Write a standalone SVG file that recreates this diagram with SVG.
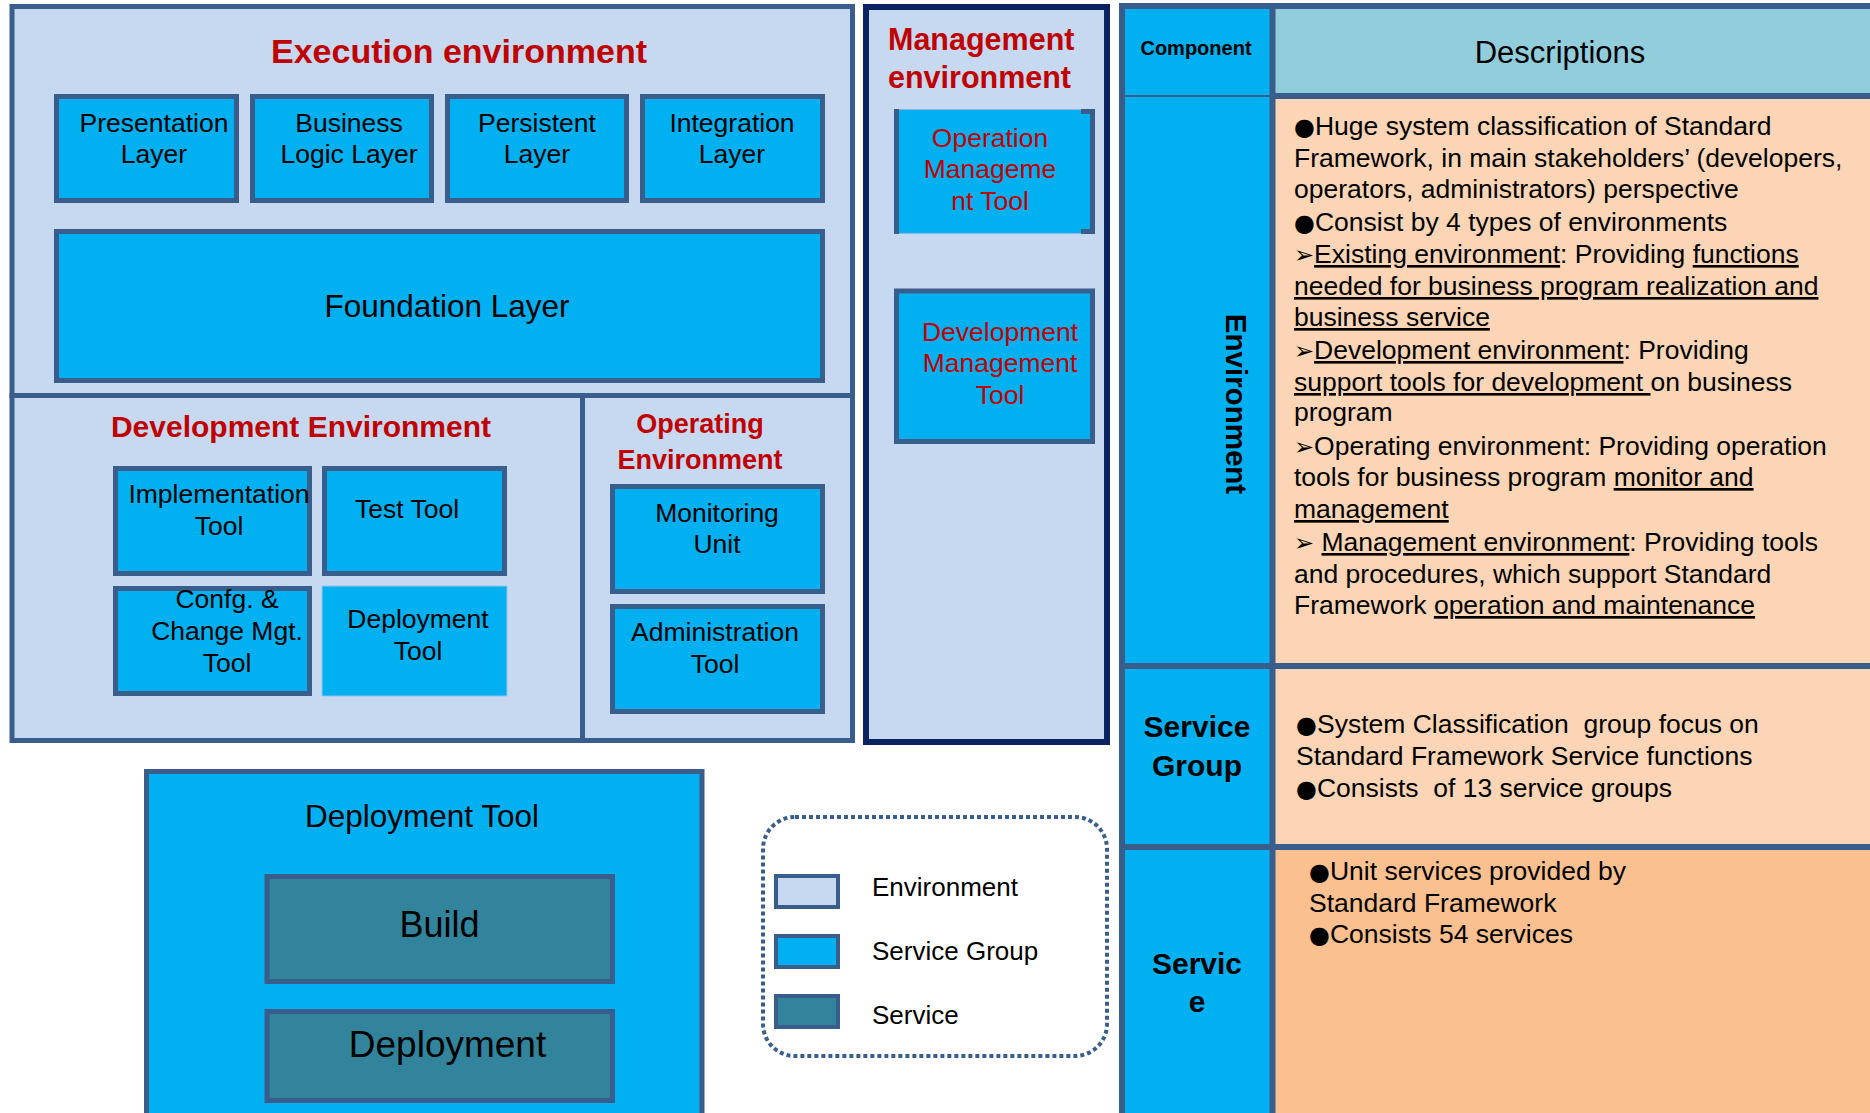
<svg xmlns="http://www.w3.org/2000/svg" width="1870" height="1113" viewBox="0 0 1870 1113">
<style>
.env{fill:#C6D9F1;stroke:#3A5E8C;stroke-width:5}
.sg{fill:#00B0F0;stroke:#3A5E8C;stroke-width:5}
.sv{fill:#31849B;stroke:#3A5E8C;stroke-width:5}
.line{stroke:#3A5E8C;stroke-width:6;fill:none}
text{font-family:"Liberation Sans",Arial,"DejaVu Sans",sans-serif;fill:#000}
.c{text-anchor:middle}
.red{fill:#C00000}
.b{font-weight:bold}
.f26{font-size:26.5px}
.desc{font-size:26.5px}
.u{text-decoration:underline}
.bul{font-family:"DejaVu Sans",sans-serif;font-size:24px}
</style>
<rect x="0" y="0" width="1870" height="1113" fill="#FFFFFF"/>

<g id="execution-environment">
<rect class="env" x="12" y="6.5" width="840.5" height="389"/>
<text class="c red b" x="459" y="63" font-size="34">Execution environment</text>
</g>
<g id="presentation-layer">
<rect class="sg" x="56.5" y="96.5" width="180" height="104"/>
<text class="c f26" x="154" y="132">Presentation</text>
<text class="c f26" x="154" y="163">Layer</text>
</g>
<g id="business-logic-layer">
<rect class="sg" x="252.5" y="96.5" width="179" height="104"/>
<text class="c f26" x="349" y="132">Business</text>
<text class="c f26" x="349" y="163">Logic Layer</text>
</g>
<g id="persistent-layer">
<rect class="sg" x="447.5" y="96.5" width="179" height="104"/>
<text class="c f26" x="537" y="132">Persistent</text>
<text class="c f26" x="537" y="163">Layer</text>
</g>
<g id="integration-layer">
<rect class="sg" x="642.5" y="96.5" width="180" height="104"/>
<text class="c f26" x="732" y="132">Integration</text>
<text class="c f26" x="732" y="163">Layer</text>
</g>
<g id="foundation-layer">
<rect class="sg" x="56.5" y="231.5" width="766" height="149"/>
<text class="c" x="447" y="317" font-size="31.5">Foundation Layer</text>
</g>

<g id="development-environment">
<rect class="env" x="12" y="395.5" width="570.5" height="345"/>
<text class="c red b" x="301" y="437" font-size="30">Development Environment</text>
</g>
<g id="implementation-tool">
<rect class="sg" x="115.5" y="468.5" width="194" height="105"/>
<text class="c f26" x="219" y="503">Implementation</text>
<text class="c f26" x="219" y="535">Tool</text>
</g>
<g id="test-tool">
<rect class="sg" x="324.5" y="468.5" width="180" height="105"/>
<text class="c f26" x="407" y="518">Test Tool</text>
</g>
<g id="config-change-tool">
<rect class="sg" x="115.5" y="588.5" width="194" height="105"/>
<text class="c f26" x="227" y="608">Confg. &amp;</text>
<text class="c f26" x="227" y="640">Change Mgt.</text>
<text class="c f26" x="227" y="672">Tool</text>
</g>
<g id="deployment-tool-small">
<rect x="322" y="586" width="185" height="110" fill="#00B0F0" stroke="#9DC3E6" stroke-width="1"/>
<text class="c f26" x="418" y="628">Deployment</text>
<text class="c f26" x="418" y="660">Tool</text>
</g>

<g id="operating-environment">
<rect class="env" x="582.5" y="395.5" width="270" height="345"/>
<text class="c red b" x="700" y="433" font-size="27">Operating</text>
<text class="c red b" x="700" y="469" font-size="27">Environment</text>
</g>
<g id="monitoring-unit">
<rect class="sg" x="612.5" y="486.5" width="210" height="105"/>
<text class="c f26" x="717" y="522">Monitoring</text>
<text class="c f26" x="717" y="553">Unit</text>
</g>
<g id="administration-tool">
<rect class="sg" x="612.5" y="606.5" width="210" height="105"/>
<text class="c f26" x="715" y="641">Administration</text>
<text class="c f26" x="715" y="673">Tool</text>
</g>

<g id="management-environment">
<rect x="866" y="7" width="241" height="735" fill="#C6D9F1" stroke="#0A2260" stroke-width="6"/>
<text class="red b" x="888" y="50" font-size="30.5">Management</text>
<text class="red b" x="888" y="88" font-size="30.5">environment</text>
</g>
<g id="operation-management-tool">
<rect x="894.5" y="109.5" width="200" height="124" fill="#00B0F0" stroke="#8EB4E3" stroke-width="1"/>
<rect x="894" y="109" width="5" height="125" fill="#3A5E8C"/>
<path d="M1081 111.5H1092.5V231.5H1081" fill="none" stroke="#3A5E8C" stroke-width="5"/>
<text class="c red f26" x="990" y="147">Operation</text>
<text class="c red f26" x="990" y="178">Manageme</text>
<text class="c red f26" x="990" y="210">nt Tool</text>
</g>
<g id="development-management-tool">
<rect class="sg" x="896.5" y="291" width="196" height="150.5"/>
<text class="c red f26" x="1000" y="341">Development</text>
<text class="c red f26" x="1000" y="372">Management</text>
<text class="c red f26" x="1000" y="404">Tool</text>
</g>

<g id="component-table">
<rect x="1122" y="6" width="150" height="1107" fill="#00B0F0"/>
<rect x="1272" y="6" width="598" height="90" fill="#92CDDC"/>
<rect x="1272" y="96" width="598" height="570" fill="#FBD5B5"/>
<rect x="1272" y="666" width="598" height="181" fill="#FBD5B5"/>
<rect x="1272" y="847" width="598" height="266" fill="#FAC090"/>
<path class="line" d="M1122 3V1113M1272.5 3V1113M1119 6H1870M1272 96H1870M1119 666H1870M1119 847H1870"/>
<path d="M1125 96H1270" stroke="#3A5E8C" stroke-width="2"/>
<text class="c b" x="1196" y="55" font-size="20">Component</text>
<text class="c" x="1560" y="63" font-size="31">Descriptions</text>
<text class="c b" transform="translate(1226,404) rotate(90)" font-size="29.5">Environment</text>
<text class="c b" x="1197" y="737" font-size="30">Service</text>
<text class="c b" x="1197" y="776" font-size="30">Group</text>
<text class="c b" x="1197" y="974" font-size="30">Servic</text>
<text class="c b" x="1197" y="1012" font-size="30">e</text>
</g>

<g id="environment-description">
<text class="desc" x="1294" y="135"><tspan class="bul">●</tspan>Huge system classification of Standard</text>
<text class="desc" x="1294" y="167">Framework, in main stakeholders’ (developers,</text>
<text class="desc" x="1294" y="198">operators, administrators) perspective</text>
<text class="desc" x="1294" y="231"><tspan class="bul">●</tspan>Consist by 4 types of environments</text>
<text class="desc" x="1294" y="263"><tspan class="bul">➢</tspan><tspan class="u">Existing environment</tspan>: Providing <tspan class="u">functions</tspan></text>
<text class="desc u" x="1294" y="295">needed for business program realization and</text>
<text class="desc" x="1294" y="326"><tspan class="u">business service</tspan></text>
<text class="desc" x="1294" y="359"><tspan class="bul">➢</tspan><tspan class="u">Development environment</tspan>: Providing</text>
<text class="desc" x="1294" y="391" xml:space="preserve"><tspan class="u">support tools for development </tspan>on business</text>
<text class="desc" x="1294" y="421">program</text>
<text class="desc" x="1294" y="455"><tspan class="bul">➢</tspan>Operating environment: Providing operation</text>
<text class="desc" x="1294" y="486">tools for business program <tspan class="u">monitor and</tspan></text>
<text class="desc" x="1294" y="518"><tspan class="u">management</tspan></text>
<text class="desc" x="1294" y="551" xml:space="preserve"><tspan class="bul">➢</tspan> <tspan class="u">Management environment</tspan>: Providing tools</text>
<text class="desc" x="1294" y="583">and procedures, which support Standard</text>
<text class="desc" x="1294" y="614">Framework <tspan class="u">operation and maintenance</tspan></text>
</g>

<g id="service-group-description">
<text class="desc" x="1296" y="733" xml:space="preserve"><tspan class="bul">●</tspan>System Classification  group focus on</text>
<text class="desc" x="1296" y="765">Standard Framework Service functions</text>
<text class="desc" x="1296" y="797" xml:space="preserve"><tspan class="bul">●</tspan>Consists  of 13 service groups</text>
</g>

<g id="service-description">
<text class="desc" x="1309" y="880"><tspan class="bul">●</tspan>Unit services provided by</text>
<text class="desc" x="1309" y="912">Standard Framework</text>
<text class="desc" x="1309" y="943"><tspan class="bul">●</tspan>Consists 54 services</text>
</g>

<g id="deployment-tool">
<rect class="sg" x="146.5" y="771.5" width="555.5" height="350"/>
<text class="c" x="422" y="827" font-size="31.5">Deployment Tool</text>
</g>
<g id="build">
<rect class="sv" x="267" y="876.5" width="345.5" height="105"/>
<text class="c" x="439.5" y="937" font-size="36">Build</text>
</g>
<g id="deployment">
<rect class="sv" x="267" y="1011.5" width="345.5" height="89"/>
<text class="c" x="447.5" y="1057" font-size="37">Deployment</text>
</g>

<g id="legend">
<rect x="763" y="817" width="344" height="239" rx="32" ry="32" fill="none" stroke="#3A5E8C" stroke-width="4" stroke-dasharray="4 3"/>
<rect x="776" y="876" width="62" height="31" fill="#C6D9F1" stroke="#3A5E8C" stroke-width="4"/>
<rect x="776" y="936" width="62" height="31" fill="#00B0F0" stroke="#3A5E8C" stroke-width="4"/>
<rect x="776" y="996" width="62" height="31" fill="#31849B" stroke="#3A5E8C" stroke-width="4"/>
<text x="872" y="896" font-size="26">Environment</text>
<text x="872" y="960" font-size="26">Service Group</text>
<text x="872" y="1024" font-size="26">Service</text>
</g>
<g id="connectors"/>
</svg>
